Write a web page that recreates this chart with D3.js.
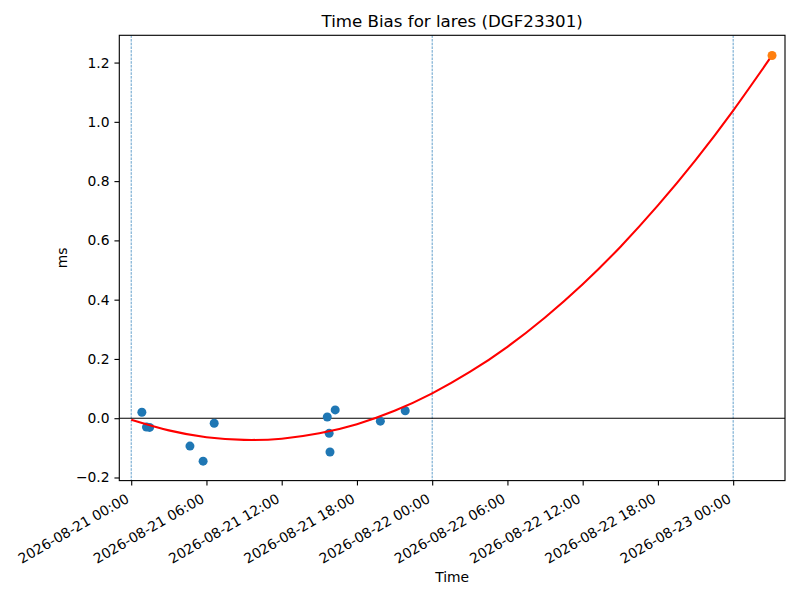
<!DOCTYPE html>
<html>
<head>
<meta charset="utf-8">
<script src="https://cdn.jsdelivr.net/npm/d3@7"></script>
<style>
  html, body { margin: 0; padding: 0; background: #fff; }
  svg { display: block; font-family: "DejaVu Sans", sans-serif; }
</style>
</head>
<body>
<svg id="chart" width="800" height="600"></svg>
<script>
// ---- data ----
const obsTimes = ["2026-08-21T00:51", "2026-08-21T01:13", "2026-08-21T01:28", "2026-08-21T04:41",
  "2026-08-21T05:44", "2026-08-21T06:37", "2026-08-21T15:38", "2026-08-21T16:16",
  "2026-08-21T15:47", "2026-08-21T15:51", "2026-08-21T19:52", "2026-08-21T21:51"];
const obsValues = [0.020, -0.030, -0.031, -0.094, -0.145, -0.017, 0.004, 0.028, -0.051, -0.114, -0.010, 0.025];

const predTime = "2026-08-23T03:06";
const predValue = 1.224;

const fitTimes = ["2026-08-21T00:00", "2026-08-21T03:00", "2026-08-21T06:00", "2026-08-21T09:00",
  "2026-08-21T12:00", "2026-08-21T15:00", "2026-08-21T18:00", "2026-08-21T21:00",
  "2026-08-22T00:00", "2026-08-22T03:00", "2026-08-22T06:00", "2026-08-22T09:00",
  "2026-08-22T12:00", "2026-08-22T15:00", "2026-08-22T18:00", "2026-08-22T21:00",
  "2026-08-23T00:00", "2026-08-23T03:06"];
const fitValues = [-0.005, -0.041, -0.064, -0.073, -0.069, -0.051, -0.020, 0.025,
  0.084, 0.156, 0.241, 0.340, 0.452, 0.578, 0.718, 0.871, 1.038, 1.224];

const dayLines = ["2026-08-21T00:00", "2026-08-22T00:00", "2026-08-23T00:00"];
const xTickTimes = ["2026-08-21T00:00", "2026-08-21T06:00", "2026-08-21T12:00", "2026-08-21T18:00",
  "2026-08-22T00:00", "2026-08-22T06:00", "2026-08-22T12:00", "2026-08-22T18:00", "2026-08-23T00:00"];
const yTicks = [-0.2, 0.0, 0.2, 0.4, 0.6, 0.8, 1.0, 1.2];
const xDomain = ["2026-08-20T23:03", "2026-08-23T04:08"];
const yDomain = [-0.2105, 1.292];

const titleText = "Time Bias for lares (DGF23301)";
const xLabel = "Time";
const yLabel = "ms";

// ---- setup ----
const parse = d3.utcParse("%Y-%m-%dT%H:%M");
const fmt = d3.utcFormat("%Y-%m-%d %H:%M");
const L = 119.3, R = 785, T = 35.3, B = 480.6;
const PT = 100 / 72;

const svg = d3.select("#chart");
const x = d3.scaleUtc().domain(xDomain.map(parse)).range([L, R]);
const y = d3.scaleLinear().domain(yDomain).range([B, T]);

const g = svg.append("g");

svg.append("defs").append("clipPath").attr("id", "clip")
  .append("rect").attr("x", L).attr("y", T).attr("width", R - L).attr("height", B - T);
const plot = g.append("g").attr("clip-path", "url(#clip)");

// vertical dashed day lines
plot.selectAll("line.day").data(dayLines.map(parse)).enter().append("line")
  .attr("class", "day")
  .attr("x1", d => x(d)).attr("x2", d => x(d))
  .attr("y1", T).attr("y2", B)
  .attr("stroke", "#1f77b4").attr("stroke-width", 0.7)
  .attr("stroke-dasharray", "2.6,1.1");

// zero line
plot.append("line")
  .attr("x1", L).attr("x2", R).attr("y1", y(0)).attr("y2", y(0))
  .attr("stroke", "#000").attr("stroke-width", 0.8 * PT);

// observed points
const obs = obsTimes.map((t, i) => ({ t: parse(t), v: obsValues[i] }));
plot.selectAll("circle.obs").data(obs).enter().append("circle")
  .attr("class", "obs")
  .attr("cx", d => x(d.t)).attr("cy", d => y(d.v)).attr("r", 4.5)
  .attr("fill", "#1f77b4");

// fit curve
const fit = fitTimes.map((t, i) => ({ t: parse(t), v: fitValues[i] }));
plot.append("path").datum(fit)
  .attr("d", d3.line().x(d => x(d.t)).y(d => y(d.v)).curve(d3.curveNatural))
  .attr("fill", "none").attr("stroke", "#ff0000").attr("stroke-width", 1.5 * PT);

// predicted point
plot.append("circle")
  .attr("cx", x(parse(predTime))).attr("cy", y(predValue)).attr("r", 4.5)
  .attr("fill", "#ff7f0e");

// spines
g.append("rect").attr("x", L).attr("y", T).attr("width", R - L).attr("height", B - T)
  .attr("fill", "none").attr("stroke", "#000").attr("stroke-width", 0.8 * PT);

const fs = 10 * PT, tk = 3.5 * PT;
// x axis
const xAxis = d3.axisBottom(x).tickValues(xTickTimes.map(parse)).tickFormat(fmt)
  .tickSize(tk).tickPadding(0);
const xg = g.append("g").attr("transform", `translate(0,${B})`).call(xAxis);
xg.select(".domain").remove();
xg.selectAll(".tick line").attr("stroke", "#000").attr("stroke-width", 0.8 * PT);
const hTxt = fs * 1.164, desc = fs * 0.236;
const c30 = Math.cos(Math.PI / 6), s30 = Math.sin(Math.PI / 6);
xg.selectAll(".tick text")
  .attr("font-size", fs).attr("font-family", "DejaVu Sans").attr("fill", "#000")
  .attr("text-anchor", "end")
  .attr("y", 0).attr("dy", 0)
  .attr("transform", `translate(${-desc * s30},${tk + tk + hTxt * c30 - desc * c30}) rotate(-30)`);

// y axis
const yAxis = d3.axisLeft(y).tickValues(yTicks)
  .tickFormat(d => d3.format(".1f")(d).replace("-", "\u2212"))
  .tickSize(tk).tickPadding(tk);
const yg = g.append("g").attr("transform", `translate(${L},0)`).call(yAxis);
yg.select(".domain").remove();
yg.selectAll(".tick line").attr("stroke", "#000").attr("stroke-width", 0.8 * PT);
yg.selectAll(".tick text").attr("font-size", fs).attr("font-family", "DejaVu Sans").attr("fill", "#000");

// title & labels
g.append("text").attr("x", (L + R) / 2).attr("y", T - 6 * PT).attr("text-anchor", "middle")
  .attr("font-size", 12 * PT).attr("fill", "#000").text(titleText);
g.append("text").attr("x", (L + R) / 2).attr("y", 582).attr("text-anchor", "middle")
  .attr("font-size", fs).attr("fill", "#000").text(xLabel);
g.append("text").attr("transform", `translate(67,${(T + B) / 2}) rotate(-90)`)
  .attr("text-anchor", "middle").attr("font-size", fs).attr("fill", "#000").text(yLabel);
</script>
</body>
</html>
